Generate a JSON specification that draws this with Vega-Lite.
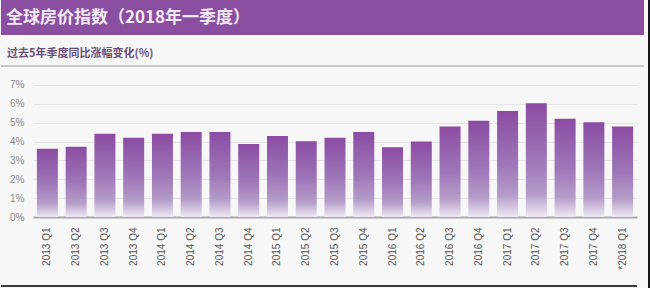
{
  "$schema": "https://vega.github.io/schema/vega-lite/v6.json",
  "background": "#f7f7f7",
  "padding": 0,
  "spacing": 2,
  "config": {
    "view": {"stroke": null},
    "font": "Noto Sans CJK SC"
  },
  "hconcat": [
    {
      "spacing": 13,
      "vconcat": [
        {
          "width": 643,
          "height": 35,
          "view": {"fill": "#8B4FA1", "stroke": null},
          "data": {"values": [{"t": "全球房价指数（2018年一季度）"}]},
          "mark": {"type": "text", "align": "left", "baseline": "middle", "fontSize": 17, "fontWeight": "bold", "color": "#F4EAF6", "font": "Noto Sans CJK SC"},
          "encoding": {"text": {"field": "t"}, "x": {"value": 5}, "y": {"value": 18}}
        },
        {
          "width": 643,
          "height": 151,
          "title": {"text": "过去5年季度同比涨幅变化(%)", "anchor": "start", "frame": "group", "dx": 6, "fontSize": 11, "fontWeight": "bold", "color": "#6A4E78", "offset": 6, "font": "Noto Sans CJK SC"},
          "data": {"values": [
            {"q": "2013 Q1", "v": 3.62},
            {"q": "2013 Q2", "v": 3.72},
            {"q": "2013 Q3", "v": 4.41},
            {"q": "2013 Q4", "v": 4.2},
            {"q": "2014 Q1", "v": 4.41},
            {"q": "2014 Q2", "v": 4.5},
            {"q": "2014 Q3", "v": 4.5},
            {"q": "2014 Q4", "v": 3.87},
            {"q": "2015 Q1", "v": 4.29},
            {"q": "2015 Q2", "v": 4.01},
            {"q": "2015 Q3", "v": 4.2},
            {"q": "2015 Q4", "v": 4.5},
            {"q": "2016 Q1", "v": 3.7},
            {"q": "2016 Q2", "v": 4.0},
            {"q": "2016 Q3", "v": 4.79},
            {"q": "2016 Q4", "v": 5.1},
            {"q": "2017 Q1", "v": 5.62},
            {"q": "2017 Q2", "v": 6.03},
            {"q": "2017 Q3", "v": 5.21},
            {"q": "2017 Q4", "v": 5.02},
            {"q": "*2018 Q1", "v": 4.79}
          ]},
          "layer": [
            {
              "mark": {
                "type": "bar",
                "color": {
                  "gradient": "linear", "x1": 0, "y1": 0, "x2": 0, "y2": 1,
                  "stops": [
                    {"offset": 0, "color": "#8B4CA3"},
                    {"offset": 0.5, "color": "#9E76B8"},
                    {"offset": 0.8, "color": "#B59CC9"},
                    {"offset": 1, "color": "#EEE8F3"}
                  ]
                }
              },
              "encoding": {
                "x": {
                  "field": "q", "type": "ordinal", "sort": null,
                  "scale": {"range": [32, 636], "paddingInner": 0.27, "paddingOuter": 0.135},
                  "axis": {"title": null, "labelAngle": -90, "labelAlign": "right", "labelBaseline": "middle", "labelPadding": 10, "labelFontSize": 10, "labelFont": "Liberation Sans", "labelColor": "#555555", "ticks": false, "domainColor": "#A8A8A8", "domainWidth": 2}
                },
                "y": {
                  "field": "v", "type": "quantitative",
                  "scale": {"domain": [0, 8], "nice": false},
                  "axis": {"title": null, "values": [0, 1, 2, 3, 4, 5, 6, 7], "tickCount": 8, "labelOverlap": false, "labelExpr": "datum.value + '%'", "offset": -32, "labelPadding": 9, "domain": false, "ticks": false, "labelFontSize": 10, "labelFont": "Liberation Sans", "labelColor": "#888888", "gridColor": "#E6E6E6", "gridWidth": 1}
                }
              }
            },
            {
              "mark": {"type": "rule", "color": "#C8C8C8", "strokeWidth": 2},
              "encoding": {"y": {"datum": 8}}
            }
          ]
        },
        {
          "width": 636,
          "height": 2,
          "view": {"fill": "#3A3A3A", "stroke": null},
          "data": {"values": [{}]},
          "mark": {"type": "point", "opacity": 0},
          "encoding": {}
        }
      ]
    },
    {
      "width": 5,
      "height": 288,
      "view": {"fill": "#151515", "stroke": null},
      "data": {"values": [{}]},
      "mark": {"type": "point", "opacity": 0},
      "encoding": {}
    }
  ]
}
